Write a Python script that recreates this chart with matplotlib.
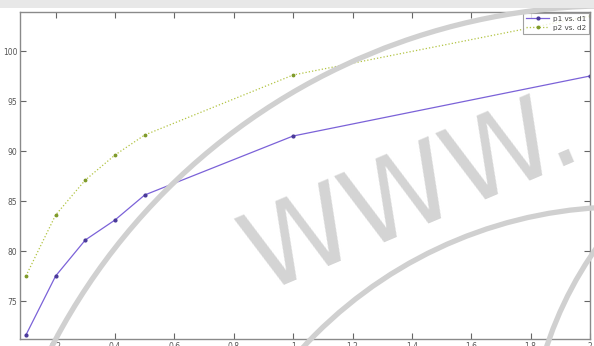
import numpy as np
import matplotlib
matplotlib.use("Agg")
import matplotlib.pyplot as plt
from matplotlib.patches import Circle, Rectangle

# sample points for the two runs
d1 = [0.1, 0.2, 0.3, 0.4, 0.5, 1.0, 2.0]
p1 = [71.6, 77.5, 81.1, 83.1, 85.6, 91.5, 97.5]
d2 = [0.1, 0.2, 0.3, 0.4, 0.5, 1.0, 2.0]
p2 = [77.5, 83.6, 87.1, 89.6, 91.6, 97.6, 103.5]

x_ticks = [0.2, 0.4, 0.6, 0.8, 1, 1.2, 1.4, 1.6, 1.8, 2]
x_labels = ["0.2", "0.4", "0.6", "0.8", "1", "1.2", "1.4", "1.6", "1.8", "2"]
y_ticks = [75, 80, 85, 90, 95, 100]
y_labels = ["75", "80", "85", "90", "95", "100"]

W, H = 594, 346
fig = plt.figure(figsize=(W / 100, H / 100), dpi=100, facecolor="white")

# thin grey strip of the window frame above the axes
fig.patches.append(Rectangle((0, 1 - 8 / H), 1, 8 / H, transform=fig.transFigure,
                             facecolor="#e8e8e8", edgecolor="none", zorder=0))

ax = fig.add_axes([20 / W, 1 - 339 / H, 570 / W, 327 / H])
ax.plot(d1, p1, "-", color="#7b62d8", lw=0.9, marker=".", ms=4,
        mfc="#4a3a9a", mec="#4a3a9a", label="p1 vs. d1")
ax.plot(d2, p2, ":", color="#b2c443", lw=0.9, marker=".", ms=3.5,
        mfc="#7f9a2a", mec="#7f9a2a", label="p2 vs. d2")

ax.set_xlim(0.08, 2.0)
ax.set_ylim(71.2, 103.9)
ax.set_xticks(x_ticks)
ax.set_xticklabels(x_labels)
ax.set_yticks(y_ticks)
ax.set_yticklabels(y_labels)
ax.tick_params(direction="in", length=4, width=0.8, colors="#666666",
               labelsize=5.5, labelcolor="#555555", top=True, right=True, pad=2)
for s in ax.spines.values():
    s.set_color("#8a8a8a")
    s.set_linewidth(1.0)

leg = ax.legend(loc="upper right", fontsize=5.2, frameon=True, fancybox=False,
                borderaxespad=0.15, handlelength=3.2, labelspacing=0.4,
                borderpad=0.4, handletextpad=0.5)
leg.get_frame().set_edgecolor("#8a8a8a")
leg.get_frame().set_linewidth(0.8)
for t in leg.get_texts():
    t.set_color("#444444")

# site watermark drawn over everything in pixel space
wm = fig.add_axes([0, 0, 1, 1])
wm.set_xlim(0, W)
wm.set_ylim(H, 0)
wm.axis("off")
wm.patch.set_alpha(0)
grey = "#d0d0d0"
for cx, cy, r in [(611.5, 635.8, 630), (623.6, 642.9, 436), (900, 463, 372)]:
    wm.add_patch(Circle((cx, cy), r, fill=False, ec=grey, lw=3.8))
wm.text(412, 196, "WWW.", rotation=23, rotation_mode="anchor", fontsize=80,
        color="#d4d4d4", ha="center", va="center")

fig.savefig("out.png", dpi=100, facecolor="white")
